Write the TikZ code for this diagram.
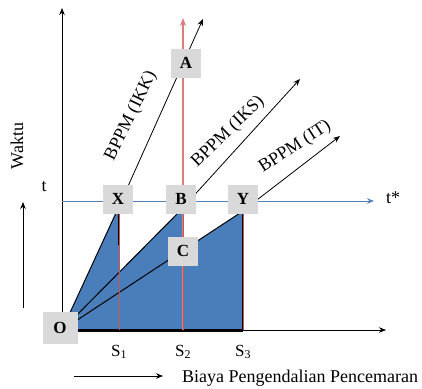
\documentclass[tikz,border=0pt]{standalone}
\usepackage{fontspec}
\setmainfont{Liberation Serif}
\usetikzlibrary{arrows.meta}
\definecolor{bluel}{RGB}{79,129,189}
\definecolor{fillb}{RGB}{74,126,187}
\definecolor{redl}{RGB}{200,85,80}
\definecolor{redar}{RGB}{220,125,125}
\definecolor{boxg}{RGB}{217,217,217}
\begin{document}
\begin{tikzpicture}[x=1pt,y=-1pt,
 lbox/.style={fill=boxg, minimum width=30pt, minimum height=29pt, inner sep=0pt, font=\fontsize{17}{17}\selectfont\bfseries},
 arr/.style={-{Stealth[length=7pt,width=5.5pt]}, line width=0.8pt},
 lab/.style={font=\fontsize{18}{18}\selectfont, inner sep=0pt},
 slab/.style={font=\fontsize{17}{17}\selectfont, inner sep=0pt},
 blk/.style={line width=1pt, black}
]
\useasboundingbox (0,0) rectangle (422,388);
% key points
\coordinate (Ot) at (62,330);
\coordinate (Xt) at (116,213); \coordinate (Xr) at (119,213); \coordinate (S1b) at (119,330);
\coordinate (Bt) at (178,213); \coordinate (Br) at (183,213); \coordinate (S2b) at (183,330);
\coordinate (Yt) at (240,213); \coordinate (Yr) at (243,213); \coordinate (S3b) at (243,330);
% fills
\fill[fillb] (Ot) -- (Xt) -- (Xr) -- (S1b) -- cycle;
\fill[fillb] (Ot) -- (Bt) -- (Br) -- (S2b) -- cycle;
\fill[fillb] (Ot) -- (Yt) -- (Yr) -- (S3b) -- cycle;
% axes
\coordinate (Ytop) at (62,8);
\coordinate (Xend) at (386,330);
\draw[arr] (Ot) -- (Ytop);
\draw[arr] (S3b) -- (Xend);
\draw[line width=3pt] (Ot) -- (S3b);
% t line
\coordinate (tL) at (62,201);
\coordinate (tR) at (374,201);
\draw[-{Stealth[length=7pt,width=5.5pt]}, line width=1pt, bluel] (tL) -- (tR);
\node[lab, anchor=center] (tstar) at (393,198) {t*};
\node[lab] (tlab) at (44,187) {t};
% slanted lines
\coordinate (IKKend) at (203,19);
\coordinate (IKSend) at (300,79);
\coordinate (ITend) at (340,136);
\draw[blk] (Ot) -- (Xt);
\draw[blk] (Ot) -- (Bt);
\draw[blk] (Ot) -- (Yt);
\draw[arr] (Xt) -- (IKKend);
\draw[arr] (Bt) -- (IKSend);
\draw[arr] (Yt) -- (ITend);
% verticals
\draw[line width=1.4pt] (Br) -- (S2b);
\draw[line width=1.4pt] (Yr) -- (S3b);
\draw[line width=1.4pt] (Xr) -- ++(0,32);
\draw[redl, line width=0.7pt] (Xr) -- (S1b);
\draw[redl, line width=0.7pt] (S3b) -- (Yr);
\coordinate (Rtop) at (183,18);
\draw[-{Stealth[length=8pt,width=6pt]}, redar, line width=1.3pt] (S2b) -- (Rtop);
\draw[redl, line width=0.6pt] (S2b) -- (Br);
% boxes
\node[lbox] (A) at (186,63) {A};
\node[lbox] (X) at (118,199) {X};
\node[lbox] (B) at (181,199) {B};
\node[lbox] (Y) at (243,199) {Y};
\node[lbox] (C) at (183,251) {C};
\node[lbox, minimum width=35pt, minimum height=32pt] (O) at (60,328) {O};
% rotated labels
\node[lab, rotate=64] (lIKK) at (131,116) {BPPM (IKK)};
\node[lab, rotate=44] (lIKS) at (228,132) {BPPM (IKS)};
\node[lab, rotate=33] (lIT) at (295,147) {BPPM (IT)};
% S labels
\node[slab] (s1) at (119,352) {S\textsubscript{1}};
\node[slab] (s2) at (183,352) {S\textsubscript{2}};
\node[slab] (s3) at (243,352) {S\textsubscript{3}};
% side labels
\node[lab, rotate=90] (waktu) at (17,146) {Waktu};
\coordinate (vaB) at (23,308);
\coordinate (vaT) at (23,202);
\draw[arr] (vaB) -- (vaT);
\coordinate (haL) at (74,376);
\coordinate (haR) at (163,376);
\draw[arr] (haL) -- (haR);
\node[lab, anchor=west] (biaya) at (182,378) {Biaya Pengendalian Pencemaran};
\end{tikzpicture}
\end{document}
